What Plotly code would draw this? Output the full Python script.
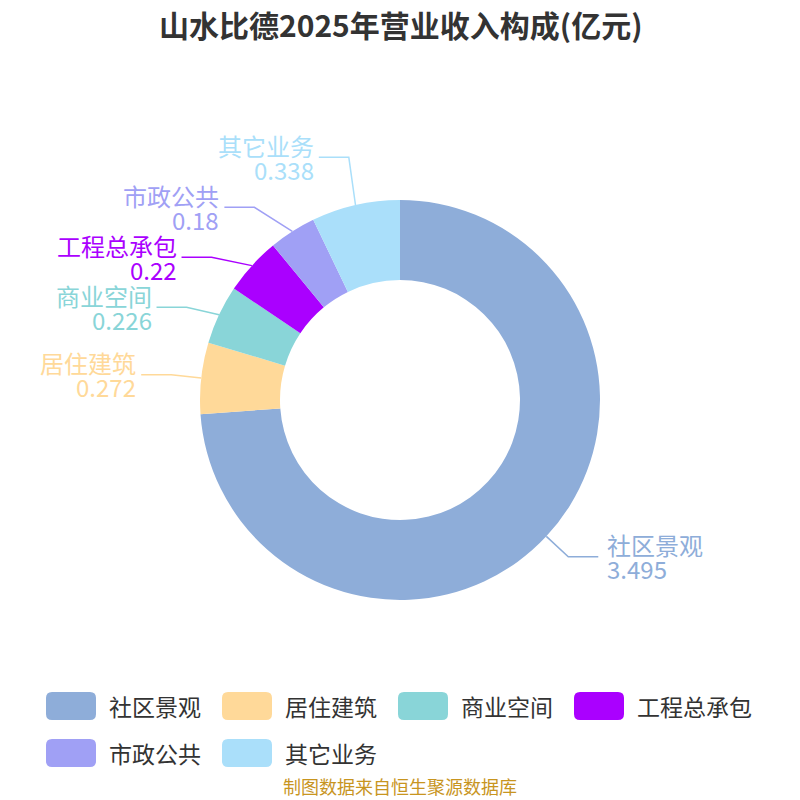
import math
import plotly.graph_objects as go

# 数据
labels = ['社区景观', '居住建筑', '商业空间', '工程总承包', '市政公共', '其它业务']
values = [3.495, 0.272, 0.226, 0.22, 0.18, 0.338]
value_text = ['3.495', '0.272', '0.226', '0.22', '0.18', '0.338']
colors = ['#8EADD9', '#FFD999', '#89D5D8', '#AA00FF', '#A0A0F5', '#AADFFA']

title = '山水比德2025年营业收入构成(亿元)'
source = '制图数据来自恒生聚源数据库'

W = H = 800
cx, cy, r = 400, 400, 200
len1, len2 = 30, 30
font = 'Noto Sans CJK SC'


def px(x):
    return x / W


def py(y):
    return 1 - y / H


fig = go.Figure(go.Pie(
    labels=labels,
    values=values,
    marker=dict(colors=colors, line=dict(width=0)),
    hole=0.6,
    sort=False,
    direction='clockwise',
    rotation=0,
    textinfo='none',
    textposition='inside',
    showlegend=False,
    domain=dict(x=[px(cx - r), px(cx + r)], y=[py(cy + r), py(cy - r)]),
    hoverinfo='label+value',
))

# 标签位置（类似 echarts 的防重叠）
total = sum(values)
items = []
acc = 0
for i, v in enumerate(values):
    mid = (acc + v / 2) / total * 2 * math.pi
    acc += v
    sx, sy = math.sin(mid), -math.cos(mid)
    items.append(dict(i=i, dir=1 if sx >= 0 else -1,
                      p0=(cx + r * sx, cy + r * sy),
                      dx=abs((r + len1) * sx),
                      y=cy + (r + len1) * sy, y0=cy + (r + len1) * sy))

gap = 50
rA = r + len1
for d in (1, -1):
    side = sorted([it for it in items if it['dir'] == d], key=lambda t: t['y'])
    for _ in range(300):
        moved = False
        for a, b in zip(side, side[1:]):
            dd = b['y'] - a['y']
            if dd < gap - 1e-6:
                s = (gap - dd) / 2
                a['y'] -= s
                b['y'] += s
                moved = True
        if not moved:
            break
    if any(abs(it['y'] - it['y0']) > 0.5 for it in side):
        top = max(side, key=lambda t: abs(t['y'] - cy))
        dy = abs(top['y'] - cy)
        rB = math.sqrt(dy * dy / (1 - top['dx'] ** 2 / rA ** 2))
        for it in side:
            ddy = abs(it['y'] - cy)
            it['dx'] = rA * math.sqrt(max(0, 1 - ddy * ddy / rB ** 2))

shapes = []
annotations = []
for it in items:
    i, d = it['i'], it['dir']
    ex, ey = cx + d * it['dx'], it['y']
    endx = ex + d * len2
    x0, y0 = it['p0']
    shapes.append(dict(type='path', xref='paper', yref='paper',
                       path=f'M{px(x0)},{py(y0)} L{px(ex)},{py(ey)} L{px(endx)},{py(ey)}',
                       line=dict(color=colors[i], width=1.5)))
    tx = endx + d * (8 if d > 0 else 4)
    anchor = 'left' if d > 0 else 'right'
    for txt, off in ((labels[i], -12), (value_text[i], 12)):
        annotations.append(dict(x=px(tx), y=py(ey + off), xref='paper', yref='paper',
                                text=txt, showarrow=False, xanchor=anchor, yanchor='middle',
                                borderpad=0,
                                font=dict(family=font, size=24, color=colors[i])))

# 自定义图例
rect_w, rect_h, rad = 50, 28, 6
step = 176
per_row = 4
row_y = [706, 753]
row1_w = (per_row - 1) * step + rect_w + 11 + 5 * 23
lx0 = (W - row1_w) / 2 - 2
for i, name in enumerate(labels):
    x = lx0 + (i % per_row) * step
    yc = row_y[i // per_row]
    t, b = yc - rect_h / 2, yc + rect_h / 2
    x1 = x + rect_w
    path = (f'M{px(x + rad)},{py(t)} L{px(x1 - rad)},{py(t)} Q{px(x1)},{py(t)} {px(x1)},{py(t + rad)} '
            f'L{px(x1)},{py(b - rad)} Q{px(x1)},{py(b)} {px(x1 - rad)},{py(b)} '
            f'L{px(x + rad)},{py(b)} Q{px(x)},{py(b)} {px(x)},{py(b - rad)} '
            f'L{px(x)},{py(t + rad)} Q{px(x)},{py(t)} {px(x + rad)},{py(t)} Z')
    shapes.append(dict(type='path', xref='paper', yref='paper', path=path,
                       fillcolor=colors[i], line=dict(width=0)))
    annotations.append(dict(x=px(x1 + 11), y=py(yc), xref='paper', yref='paper',
                            text=name, showarrow=False, xanchor='left', yanchor='middle',
                            font=dict(family=font, size=23, color='#333333')))

annotations.append(dict(x=0.5, y=py(24), xref='paper', yref='paper', text=f'<b>{title}</b>',
                        showarrow=False, xanchor='center', yanchor='middle',
                        font=dict(family=font, size=30, color='#333333')))
annotations.append(dict(x=0.5, y=py(786), xref='paper', yref='paper', text=source,
                        showarrow=False, xanchor='center', yanchor='middle',
                        borderpad=0,
                        font=dict(family=font, size=18, color='#C8951F')))

fig.update_layout(
    width=W, height=H,
    margin=dict(l=0, r=0, t=0, b=0),
    paper_bgcolor='white',
    plot_bgcolor='white',
    shapes=shapes,
    annotations=annotations,
    showlegend=False,
)

# 去掉页面默认边距，让图正好铺满 800x800 窗口
fig.write_html('out.html', config={'displayModeBar': False},
               post_script="document.body.style.margin='0';")
